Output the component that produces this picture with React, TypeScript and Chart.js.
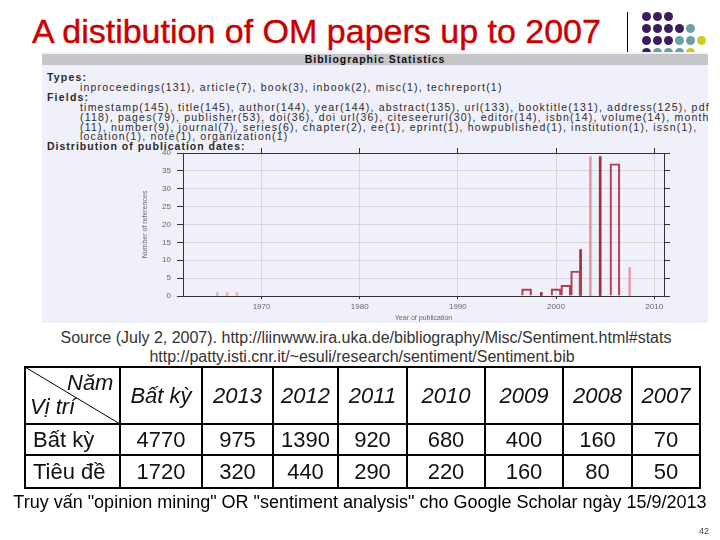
import React, { useEffect, useRef } from 'react';
import { Chart, registerables } from 'chart.js';

Chart.register(...registerables);

// ---------- data ----------
const boxYears = [1997, 2000, 2001, 2002, 2006];
const boxCounts = [2, 2, 3, 7, 37];
const spikeYears = [1965.5, 1966.5, 1967.5, 1998.5, 2002.5, 2003.5, 2004.5, 2007.5];
const spikeCounts = [1, 1, 1, 1, 13, 39, 39, 8];
const yearTicks = [1970, 1980, 1990, 2000, 2010];
const countMax = 40;
const countStep = 5;

const tableColumns = ['Bất kỳ', '2013', '2012', '2011', '2010', '2009', '2008', '2007'];
const rowLabels = ['Bất kỳ', 'Tiêu đề'];
const anyPositionCounts = [4770, 975, 1390, 920, 680, 400, 160, 70];
const titleCounts = [1720, 320, 440, 290, 220, 160, 80, 50];

const typesLine = 'inproceedings(131), article(7), book(3), inbook(2), misc(1), techreport(1)';
const fieldLines = [
  'timestamp(145), title(145), author(144), year(144), abstract(135), url(133), booktitle(131), address(125), pdf',
  '(118), pages(79), publisher(53), doi(36), doi url(36), citeseerurl(30), editor(14), isbn(14), volume(14), month',
  '(11), number(9), journal(7), series(6), chapter(2), ee(1), eprint(1), howpublished(1), institution(1), issn(1),',
  'location(1), note(1), organization(1)',
];

// ---------- style ----------
const FONT = '"Liberation Sans", Arial, Helvetica, sans-serif';
const spikePalette = ['#f2b3ba', '#f2b3ba', '#f2b3ba', '#9c2f3d', '#9c2f3d', '#e39aa3', '#9c2f3d', '#e7a3ab'];
const PURPLE = '#3a1d5c';
const TEAL = '#6c9fa1';
const YELLOW = '#cccc22';
const dotRows: string[][] = [
  [PURPLE, PURPLE, PURPLE],
  [PURPLE, PURPLE, PURPLE, PURPLE, TEAL],
  [PURPLE, PURPLE, PURPLE, TEAL, TEAL, YELLOW],
  [PURPLE, TEAL, TEAL, TEAL, YELLOW],
];
const colEdges = [25, 120, 202, 273, 338, 407, 485, 563, 632, 700];
const rowEdges = [367, 424, 455, 488];

Chart.defaults.font.family = FONT;

function decadeTicks(scale: any) {
  scale.ticks = yearTicks.map((v) => ({ value: v }));
}

function ChartBox() {
  const ref = useRef<HTMLCanvasElement>(null);
  useEffect(() => {
    if (!ref.current) return;
    const axisColor = '#333';
    const gridColor = '#d5d5e3';
    const chart = new Chart(ref.current, {
      type: 'bar',
      data: {
        datasets: [
          {
            label: 'bins',
            data: boxYears.map((x, i) => ({ x, y: boxCounts[i] })) as any,
            backgroundColor: 'rgba(0,0,0,0)',
            borderColor: '#b23f4f',
            borderWidth: 1.5,
            barThickness: 10,
            grouped: false,
            xAxisID: 'x',
            yAxisID: 'y',
          } as any,
          {
            label: 'edges',
            data: spikeYears.map((x, i) => ({ x, y: spikeCounts[i] })) as any,
            backgroundColor: (ctx: any) => spikePalette[ctx.dataIndex] || '#9c2f3d',
            borderWidth: 0,
            barThickness: 2,
            grouped: false,
            xAxisID: 'x',
            yAxisID: 'y',
          } as any,
        ],
      },
      options: {
        responsive: false,
        animation: false,
        events: [],
        layout: { padding: 0 },
        plugins: { legend: { display: false }, tooltip: { enabled: false } },
        scales: {
          x: {
            type: 'linear',
            position: 'bottom',
            min: 1962,
            max: 2011,
            offset: false,
            afterBuildTicks: decadeTicks,
            afterFit: (s: any) => { s.height = 29; },
            grid: { color: gridColor, tickColor: axisColor, tickLength: 3, offset: false },
            border: { color: axisColor, width: 1 },
            ticks: {
              color: '#666',
              font: { size: 8 },
              padding: 3,
              maxRotation: 0,
              autoSkip: false,
              callback: (v: any) => String(v),
            },
            title: {
              display: true,
              text: 'Year of publication',
              color: '#666',
              font: { size: 7 },
              padding: { top: 0, bottom: 3 },
            },
          },
          x2: {
            type: 'linear',
            position: 'top',
            min: 1962,
            max: 2011,
            offset: false,
            afterBuildTicks: decadeTicks,
            afterFit: (s: any) => { s.height = 13; },
            grid: { drawOnChartArea: false, tickColor: axisColor, tickLength: 5, offset: false },
            border: { color: axisColor, width: 1 },
            ticks: { display: false },
          },
          y: {
            type: 'linear',
            position: 'left',
            min: 0,
            max: countMax,
            afterFit: (s: any) => { s.width = 63; },
            grid: { color: gridColor, tickColor: axisColor, tickLength: 6 },
            border: { color: axisColor, width: 1 },
            ticks: { stepSize: countStep, color: '#666', font: { size: 8 }, padding: 6 },
            title: {
              display: true,
              text: 'Number of references',
              color: '#666',
              font: { size: 7 },
              padding: { top: 21, bottom: 0 },
            },
          },
          y2: {
            type: 'linear',
            position: 'right',
            min: 0,
            max: countMax,
            afterFit: (s: any) => { s.width = 36; },
            grid: { drawOnChartArea: false, tickColor: axisColor, tickLength: 6 },
            border: { color: axisColor, width: 1 },
            ticks: { stepSize: countStep, display: false },
          },
        },
      } as any,
    });
    return () => chart.destroy();
  }, []);
  return (
    <canvas
      ref={ref}
      width={580}
      height={185}
      style={{ position: 'absolute', left: 120, top: 140, width: 580, height: 185 }}
    />
  );
}

const abs = (left: number, top: number, extra: React.CSSProperties = {}): React.CSSProperties => ({
  position: 'absolute',
  left,
  top,
  whiteSpace: 'nowrap',
  ...extra,
});

export default function App() {
  const statText: React.CSSProperties = {
    fontSize: 10.5,
    lineHeight: '11px',
    letterSpacing: '1.2px',
    color: '#2a2a2a',
  };
  const lineCenters = [107, 117, 127, 136.5];
  return (
    <div
      style={{
        position: 'absolute',
        left: 0,
        top: 0,
        width: 720,
        height: 540,
        background: '#ffffff',
        overflow: 'hidden',
        fontFamily: FONT,
      }}
    >
      {/* title */}
      <div style={abs(32, 14, { fontSize: 34, lineHeight: '34px', color: '#c80000', WebkitTextStroke: '0.4px #c80000' })}>
        A distibution of OM papers up to 2007
      </div>
      <div style={abs(627, 12, { width: 1, height: 40, background: '#000' })} />
      {dotRows.map((row, r) =>
        row.map((c, i) => (
          <div
            key={`d${r}-${i}`}
            style={abs(642 + i * 11, 12 + r * 12, {
              width: 9,
              height: 9,
              borderRadius: '50%',
              background: c,
            })}
          />
        ))
      )}

      {/* screenshot panel */}
      <div style={abs(42, 52, { width: 666, height: 271, background: '#f0f0fb' })} />
      <div style={abs(42, 54, { width: 666, height: 11, background: '#c6c6c8' })} />
      <div
        style={abs(42, 54, {
          width: 666,
          textAlign: 'center',
          fontSize: 10.5,
          lineHeight: '11px',
          fontWeight: 'bold',
          letterSpacing: '1px',
          color: '#111',
        })}
      >
        Bibliographic Statistics
      </div>
      <div style={abs(47, 71.5, { ...statText, fontWeight: 'bold' })}>Types:</div>
      <div style={abs(80, 81.5, statText)}>{typesLine}</div>
      <div style={abs(47, 91.5, { ...statText, fontWeight: 'bold' })}>Fields:</div>
      {fieldLines.map((t, i) => (
        <div key={`f${i}`} style={abs(80, lineCenters[i] - 5.5, statText)}>
          {t}
        </div>
      ))}
      <div style={abs(47, 140.5, { ...statText, fontWeight: 'bold', letterSpacing: '1px' })}>Distribution of publication dates:</div>

      <ChartBox />

      {/* source */}
      <div style={abs(0, 330, { width: 732, textAlign: 'center', fontSize: 16, lineHeight: '16px', color: '#333' })}>
        Source (July 2, 2007). http://liinwww.ira.uka.de/bibliography/Misc/Sentiment.html#stats
      </div>
      <div style={abs(0, 349, { width: 724, textAlign: 'center', fontSize: 16, lineHeight: '16px', color: '#333' })}>
        http://patty.isti.cnr.it/~esuli/research/sentiment/Sentiment.bib
      </div>

      {/* table */}
      {colEdges.map((x, i) => (
        <div key={`v${i}`} style={abs(x - 1, rowEdges[0] - 1, { width: 2, height: rowEdges[3] - rowEdges[0] + 2, background: '#000' })} />
      ))}
      {rowEdges.map((y, i) => (
        <div key={`h${i}`} style={abs(colEdges[0] - 1, y - 1, { width: colEdges[9] - colEdges[0] + 2, height: 2, background: '#000' })} />
      ))}
      <svg style={abs(0, 0, { width: 720, height: 540, pointerEvents: 'none' })} width={720} height={540}>
        <line x1={colEdges[0]} y1={rowEdges[0]} x2={colEdges[1]} y2={rowEdges[1]} stroke="#000" strokeWidth={1} />
      </svg>
      <div style={abs(67, 372, { fontSize: 22, lineHeight: '22px', fontStyle: 'italic', color: '#111' })}>Năm</div>
      <div style={abs(30, 396, { fontSize: 22, lineHeight: '22px', fontStyle: 'italic', color: '#111' })}>Vị trí</div>
      {tableColumns.map((t, i) => (
        <div
          key={`c${i}`}
          style={abs(colEdges[i + 1], rowEdges[0], {
            width: colEdges[i + 2] - colEdges[i + 1],
            height: rowEdges[1] - rowEdges[0],
            display: 'flex',
            alignItems: 'center',
            justifyContent: 'center',
            fontSize: 22,
            fontStyle: 'italic',
            color: '#111',
          })}
        >
          {t}
        </div>
      ))}
      {[anyPositionCounts, titleCounts].map((vals, r) => (
        <React.Fragment key={`r${r}`}>
          <div
            style={abs(33, rowEdges[r + 1], {
              height: rowEdges[r + 2] - rowEdges[r + 1],
              display: 'flex',
              alignItems: 'center',
              fontSize: 22,
              color: '#111',
            })}
          >
            {rowLabels[r]}
          </div>
          {vals.map((v, i) => (
            <div
              key={`n${r}-${i}`}
              style={abs(colEdges[i + 1], rowEdges[r + 1], {
                width: colEdges[i + 2] - colEdges[i + 1],
                height: rowEdges[r + 2] - rowEdges[r + 1],
                display: 'flex',
                alignItems: 'center',
                justifyContent: 'center',
                fontSize: 22,
                color: '#111',
              })}
            >
              {v}
            </div>
          ))}
        </React.Fragment>
      ))}

      {/* footer */}
      <div style={abs(0, 493, { width: 720, textAlign: 'center', fontSize: 18, lineHeight: '18px', color: '#000' })}>
        Truy vấn "opinion mining" OR "sentiment analysis" cho Google Scholar ngày 15/9/2013
      </div>
      <div style={abs(699, 527, { fontSize: 9, lineHeight: '9px', color: '#444' })}>42</div>
    </div>
  );
}
